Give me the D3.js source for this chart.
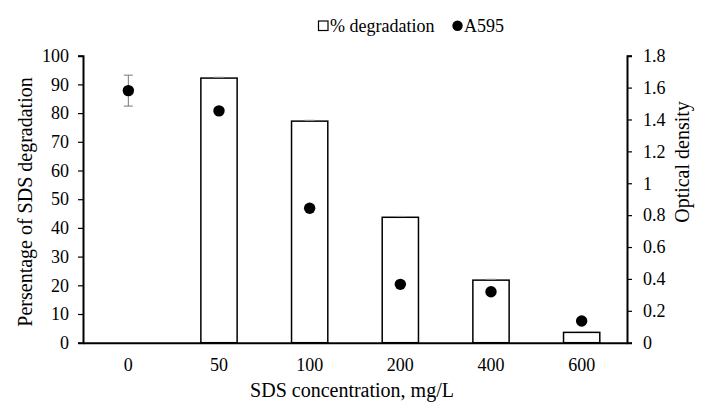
<!DOCTYPE html>
<html>
<head>
<meta charset="utf-8">
<script src="https://cdn.jsdelivr.net/npm/d3@7"></script>
<style>
  body { margin: 0; background: #fff; }
</style>
</head>
<body>
<div id="container"></div>
<script>
const categories = ["0", "50", "100", "200", "400", "600"];
const degradation = [0, 92.2, 77.2, 43.7, 21.8, 3.6];
const degradationErr = [0, 0.3, 0.3, 0.3, 0.3, 0.3];
const a595 = [1.581, 1.454, 0.843, 0.366, 0.32, 0.136];
const a595Err = [0.097, 0, 0, 0, 0, 0];
const leftTicks = [0, 10, 20, 30, 40, 50, 60, 70, 80, 90, 100];
const rightTicks = [0, 0.2, 0.4, 0.6, 0.8, 1, 1.2, 1.4, 1.6, 1.8];

const FONT = "'Liberation Serif', 'Times New Roman', serif";
const W = 703, H = 404;
const margin = { top: 55.7, right: 76, bottom: 61.3, left: 83 };
const width = W - margin.left - margin.right,
  height = H - margin.top - margin.bottom;

const svg = d3.select("#container").append("svg")
  .attr("width", W).attr("height", H)
  .attr("font-family", FONT);
const g = svg.append("g")
  .attr("transform", `translate(${margin.left},${margin.top})`);

const x = d3.scaleBand().domain(categories).range([0, width]);
const yL = d3.scaleLinear().domain([0, 100]).range([height, 0]);
const yR = d3.scaleLinear().domain([0, 1.8]).range([height, 0]);
const barW = x.bandwidth() * 0.4;

// bars
g.selectAll(".bar").data(categories.filter((c, i) => degradation[i] > 0))
  .enter().append("rect")
  .attr("class", "bar")
  .attr("x", (d) => x(d) + (x.bandwidth() - barW) / 2)
  .attr("width", barW)
  .attr("y", (d) => yL(degradation[categories.indexOf(d)]))
  .attr("height", (d) => height - yL(degradation[categories.indexOf(d)]))
  .style("fill", "#fff")
  .style("stroke", "#000")
  .style("stroke-width", 1.5);

// tiny error bars on bars
categories.forEach((c, i) => {
  if (degradation[i] <= 0) return;
  const cx = x(c) + x.bandwidth() / 2;
  g.append("line")
    .attr("x1", cx - 5).attr("x2", cx + 5)
    .attr("y1", yL(degradation[i] + degradationErr[i]))
    .attr("y2", yL(degradation[i] + degradationErr[i]))
    .style("stroke", "#999").style("stroke-width", 1);
});

// axes
const styleAxis = (ax) => {
  ax.attr("font-family", FONT).attr("font-size", 18);
  ax.select(".domain").style("stroke", "#000").style("stroke-width", 2);
  ax.selectAll(".tick line").style("stroke", "#000").style("stroke-width", 1.2);
  ax.selectAll("text").style("font-family", FONT).style("font-size", "18px").style("fill", "#000");
};
const xAxis = g.append("g").attr("transform", `translate(0,${height})`)
  .call(d3.axisBottom(x).tickSize(0).tickPadding(16));
styleAxis(xAxis);

const leftAxis = g.append("g")
  .call(d3.axisLeft(yL).tickValues(leftTicks).tickSizeOuter(0).tickSize(5).tickPadding(9));
styleAxis(leftAxis);

const rightAxis = g.append("g").attr("transform", `translate(${width},0)`)
  .call(d3.axisRight(yR).tickValues(rightTicks).tickSizeOuter(0).tickSize(5).tickPadding(11)
    .tickFormat((d) => d3.format("~g")(d)));
styleAxis(rightAxis);

// points with error bars
categories.forEach((c, i) => {
  const cx = x(c) + x.bandwidth() / 2;
  if (a595Err[i] > 0) {
    const top = yR(a595[i] + a595Err[i]), bot = yR(a595[i] - a595Err[i]);
    g.append("line").attr("x1", cx).attr("x2", cx).attr("y1", top).attr("y2", bot)
      .style("stroke", "#777").style("stroke-width", 1);
    [top, bot].forEach((yy) => {
      g.append("line").attr("x1", cx - 4.5).attr("x2", cx + 4.5).attr("y1", yy).attr("y2", yy)
        .style("stroke", "#777").style("stroke-width", 1);
    });
  }
});
g.selectAll(".dot").data(categories).enter().append("circle")
  .attr("class", "dot")
  .attr("cx", (d) => x(d) + x.bandwidth() / 2)
  .attr("cy", (d, i) => yR(a595[i]))
  .attr("r", 5.7)
  .style("fill", "#000");

// axis titles
const title = (sel) => sel.style("font-family", FONT).style("font-size", "20px").style("fill", "#000");
svg.append("text")
  .attr("transform", "translate(32,202) rotate(-90)")
  .attr("text-anchor", "middle")
  .call(title)
  .text("Persentage of SDS degradation");
svg.append("text")
  .attr("transform", "translate(689,162) rotate(-90)")
  .attr("text-anchor", "middle")
  .call(title)
  .text("Optical density");
svg.append("text")
  .attr("x", 352)
  .attr("y", 397)
  .attr("text-anchor", "middle")
  .call(title)
  .text("SDS concentration, mg/L");

// legend
const legend = svg.append("g").attr("transform", "translate(318,26)");
legend.append("rect").attr("x", 0.5).attr("y", -5).attr("width", 9.5).attr("height", 9.5)
  .style("fill", "#fff").style("stroke", "#000").style("stroke-width", 1.2);
legend.append("text").attr("x", 12).attr("y", 5.5).style("font-family", FONT)
  .style("font-size", "18px").text("% degradation");
legend.append("circle").attr("cx", 139.5).attr("cy", -0.2).attr("r", 5.2).style("fill", "#000");
legend.append("text").attr("x", 146).attr("y", 5.5).style("font-family", FONT)
  .style("font-size", "18px").text("A595");
</script>
</body>
</html>
